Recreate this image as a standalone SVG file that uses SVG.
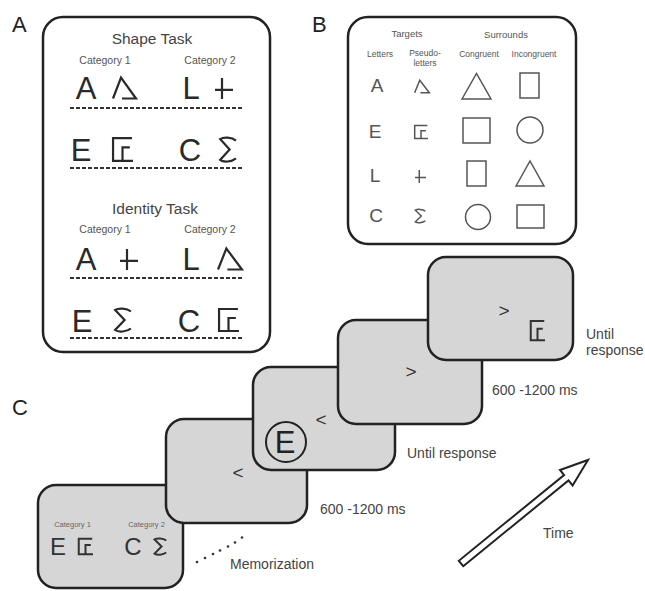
<svg xmlns="http://www.w3.org/2000/svg" xmlns:xlink="http://www.w3.org/1999/xlink" width="645" height="591" viewBox="0 0 645 591">
<style>
text{font-family:"Liberation Sans",Arial,sans-serif}
.panel{fill:#fff;stroke:#222;stroke-width:2.5}
.screen{fill:#d6d6d6;stroke:#222;stroke-width:2.5}
.lbl{font-size:22px;fill:#222}
.title{font-size:15.5px;fill:#444;text-anchor:middle}
.cat{font-size:10.5px;fill:#555;text-anchor:middle}
.bigL{font-size:31px;fill:#2a2a2a;text-anchor:middle}
.pA{fill:none;stroke:#2a2a2a;stroke-width:2.2}
.dash{stroke:#333;stroke-width:2.2;stroke-dasharray:4 2}
.hdrB{font-size:9.5px;fill:#555;text-anchor:middle}
.subB{font-size:8.5px;fill:#555;text-anchor:middle}
.letB{font-size:19px;fill:#555;text-anchor:middle}
.pB{fill:none;stroke:#555;stroke-width:1.5}
.shp{fill:none;stroke:#555;stroke-width:1.5}
.note{font-size:14px;fill:#444}
.arrowC{font-size:19px;fill:#333;text-anchor:middle}
.pS{fill:none;stroke:#333;stroke-width:2}
.catS{font-size:7.5px;fill:#666;text-anchor:middle}
.letS{font-size:24px;fill:#333;text-anchor:middle}
</style>
<defs>
<symbol id="sA" viewBox="0 0 25 22" preserveAspectRatio="none" overflow="visible"><path d="M1,21.5 L9,0.5 L24,21.5 H10" vector-effect="non-scaling-stroke"/></symbol>
<symbol id="sL" viewBox="0 0 18 22" preserveAspectRatio="none" overflow="visible"><path d="M7,0 V22 M0,12.5 H18" vector-effect="non-scaling-stroke"/></symbol>
<symbol id="sE" viewBox="0 0 20 24" preserveAspectRatio="none" overflow="visible"><path d="M19,1 H1 V23 H20 M10,23 V10 H17" vector-effect="non-scaling-stroke"/></symbol>
<symbol id="sS" viewBox="0 0 18 24" preserveAspectRatio="none" overflow="visible"><path d="M17,3.5 C13,0 5,0 2,2 L11,12 L2,22 C5,24.5 13,24 17,20.5" vector-effect="non-scaling-stroke"/></symbol>
</defs>

<g id="panelA">
<text class="lbl" x="12" y="32">A</text>
<rect class="panel" x="43" y="17" width="227" height="335" rx="20"/>
<text class="title" x="152" y="44">Shape Task</text>
<text class="cat" x="105" y="64">Category 1</text>
<text class="cat" x="210" y="64">Category 2</text>
<text class="bigL" x="86" y="99">A</text>
<use href="#sA" class="pA" x="112" y="77" width="25" height="22"/>
<text class="bigL" x="191" y="99">L</text>
<use href="#sL" class="pA" x="215" y="78" width="18" height="21"/>
<line class="dash" x1="70" y1="108" x2="243" y2="108"/>
<text class="bigL" x="81" y="161">E</text>
<use href="#sE" class="pA" x="112" y="137" width="21" height="25"/>
<text class="bigL" x="190" y="161">C</text>
<use href="#sS" class="pA" x="218" y="137" width="19" height="25"/>
<line class="dash" x1="70" y1="168" x2="243" y2="168"/>
<text class="title" x="155" y="214">Identity Task</text>
<text class="cat" x="105" y="233">Category 1</text>
<text class="cat" x="210" y="233">Category 2</text>
<text class="bigL" x="86" y="270">A</text>
<use href="#sL" class="pA" x="120" y="249" width="18" height="21"/>
<text class="bigL" x="191" y="270">L</text>
<use href="#sA" class="pA" x="217" y="248" width="26" height="22"/>
<line class="dash" x1="70" y1="278" x2="243" y2="278"/>
<text class="bigL" x="82" y="332">E</text>
<use href="#sS" class="pA" x="113" y="308" width="19" height="24"/>
<text class="bigL" x="189" y="332">C</text>
<use href="#sE" class="pA" x="218" y="308" width="21" height="24"/>
<line class="dash" x1="70" y1="338" x2="243" y2="338"/>
</g>

<g id="panelB">
<text class="lbl" x="312" y="32">B</text>
<rect class="panel" x="348" y="17" width="228" height="227" rx="20"/>
<text class="hdrB" x="407" y="37">Targets</text>
<text class="hdrB" x="506" y="38">Surrounds</text>
<text class="subB" x="380" y="57">Letters</text>
<text class="subB" x="425" y="56">Pseudo-</text>
<text class="subB" x="425" y="66">letters</text>
<text class="subB" x="479" y="57">Congruent</text>
<text class="subB" x="534" y="57">Incongruent</text>
<text class="letB" x="377" y="92">A</text>
<use href="#sA" class="pB" x="414" y="80" width="16" height="13"/>
<polygon class="shp" points="462,99 476.5,73.5 491,99"/>
<rect class="shp" x="520" y="73" width="19" height="25"/>
<text class="letB" x="375" y="138">E</text>
<use href="#sE" class="pB" x="414" y="125" width="14" height="14"/>
<rect class="shp" x="463" y="118" width="27" height="25"/>
<circle class="shp" cx="530" cy="130" r="13"/>
<text class="letB" x="375" y="182">L</text>
<use href="#sL" class="pB" x="415" y="170" width="11" height="13"/>
<rect class="shp" x="467" y="161" width="19" height="25"/>
<polygon class="shp" points="516,186 530,161 544,186"/>
<text class="letB" x="376" y="222">C</text>
<use href="#sS" class="pB" x="414" y="209" width="12" height="14"/>
<circle class="shp" cx="478" cy="217" r="12.5"/>
<rect class="shp" x="517" y="205" width="27" height="23"/>
</g>

<g id="labelC"><text class="lbl" x="12" y="415">C</text></g>

<g id="screen0">
<rect class="screen" x="38" y="485" width="145" height="103" rx="18"/>
<text class="catS" x="72.5" y="527">Category 1</text>
<text class="catS" x="146.5" y="527">Category 2</text>
<text class="letS" x="58" y="555">E</text>
<use href="#sE" class="pS" x="78" y="538" width="15" height="17"/>
<text class="letS" x="133" y="555">C</text>
<use href="#sS" class="pS" x="153" y="538" width="14" height="17"/>
</g>
<g id="screen1">
<rect class="screen" x="166" y="419" width="141" height="104" rx="18"/>
<text class="arrowC" x="238" y="479">&lt;</text>
</g>
<g id="screen2">
<rect class="screen" x="253" y="367" width="142" height="103" rx="18"/>
<text class="arrowC" x="321" y="426">&lt;</text>
<circle cx="286" cy="442" r="20" fill="none" stroke="#222" stroke-width="2"/>
<text x="285" y="453" font-size="31" fill="#222" text-anchor="middle">E</text>
</g>
<g id="screen3">
<rect class="screen" x="338" y="320" width="144" height="104" rx="18"/>
<text class="arrowC" x="411" y="378">&gt;</text>
</g>
<g id="screen4">
<rect class="screen" x="428" y="257" width="145" height="103" rx="18"/>
<text class="arrowC" x="504" y="317">&gt;</text>
<use href="#sE" class="pS" x="530" y="320" width="15" height="21"/>
</g>

<g id="notes">
<text class="note" x="586" y="339">Until</text>
<text class="note" x="586" y="355">response</text>
<text class="note" x="492" y="395">600 -1200 ms</text>
<text class="note" x="407" y="458">Until response</text>
<text class="note" x="320" y="514">600 -1200 ms</text>
<text class="note" x="230" y="569">Memorization</text>
<text class="note" x="543" y="538">Time</text>
</g>

<g id="connectors">
<g fill="#333">
<circle cx="197" cy="562" r="1.3"/><circle cx="205" cy="558" r="1.3"/><circle cx="213" cy="554" r="1.3"/><circle cx="220" cy="550.5" r="1.3"/><circle cx="228" cy="546.5" r="1.3"/><circle cx="235" cy="542.5" r="1.3"/><circle cx="242" cy="537.5" r="1.3"/>
</g>
<polygon points="463.2,566.2 568.5,480.4 572.6,485.5 588,460 560,470 564.1,475 458.8,560.8" fill="#fff" stroke="#222" stroke-width="2" stroke-linejoin="miter"/>
</g>
</svg>
